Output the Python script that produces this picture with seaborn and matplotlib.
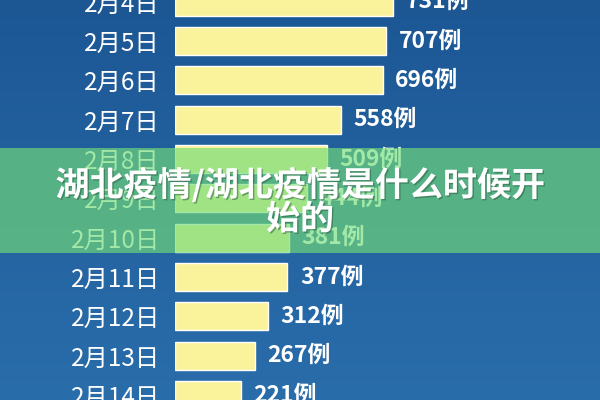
import numpy as np
import pandas as pd
import matplotlib
matplotlib.use('Agg')
import matplotlib.pyplot as plt
import matplotlib.patheffects as pe
from matplotlib.patches import Rectangle
import seaborn as sns

sns.set_theme(style="white")
plt.rcParams['font.family'] = ['Noto Sans CJK SC', 'DejaVu Sans']

# data
dates = ['2月4日', '2月5日', '2月6日', '2月7日', '2月8日', '2月9日',
         '2月10日', '2月11日', '2月12日', '2月13日', '2月14日']
cases = [731, 707, 696, 558, 509, 444, 381, 377, 312, 267, 221]
title = '湖北疫情/湖北疫情是什么时候开始的'

df = pd.DataFrame({'date': dates, 'cases': cases})

fig = plt.figure(figsize=(6, 4), dpi=100)

# blue gradient background
bg = fig.add_axes([0, 0, 1, 1], zorder=-2)
grad = np.linspace(0, 1, 256).reshape(-1, 1)
cmap = matplotlib.colors.LinearSegmentedColormap.from_list('bg', ['#1c5794', '#2a6dab'])
bg.imshow(grad, aspect='auto', cmap=cmap, extent=[0, 1, 0, 1], origin='upper')
bg.set_axis_off()

ax = fig.add_axes([175 / 600, 0, 425 / 600, 1])
ax.set_facecolor('none')
sns.barplot(data=df, x='cases', y='date', orient='h', color='#fbf29c',
            width=0.71, saturation=1, ax=ax)

for i, v in enumerate(cases):
    ax.text(v + 42, i, f'{v}例', color='white', fontsize=16.5, fontweight='heavy',
            va='center', ha='left')

ax.set_xlim(0, 1425)
ax.set_ylim(10.127, -0.043)
ax.set_xlabel('')
ax.set_ylabel('')
ax.set_xticks([])
ax.tick_params(axis='y', length=0, pad=11, labelsize=17.5, labelcolor='white')
for lab in ax.get_yticklabels():
    lab.set_fontweight('medium')
sns.despine(ax=ax, left=True, bottom=True)

# green translucent banner with the title
fig.add_artist(Rectangle((0, 1 - 253 / 400), 1, 105 / 400, transform=fig.transFigure,
                         facecolor='#72dc78', alpha=0.66, edgecolor='none', zorder=5))
shadow = [pe.withSimplePatchShadow(offset=(1, -1), shadow_rgbFace='#2a5a40', alpha=0.5)]
fig.text(0.5, 1 - 185 / 400, title[:-2], color='white', fontsize=24.5, fontweight='heavy',
         ha='center', va='center', zorder=6, path_effects=shadow)
fig.text(0.5, 1 - 219 / 400, title[-2:], color='white', fontsize=24.5, fontweight='heavy',
         ha='center', va='center', zorder=6, path_effects=shadow)

fig.savefig('out.png', dpi=100)
